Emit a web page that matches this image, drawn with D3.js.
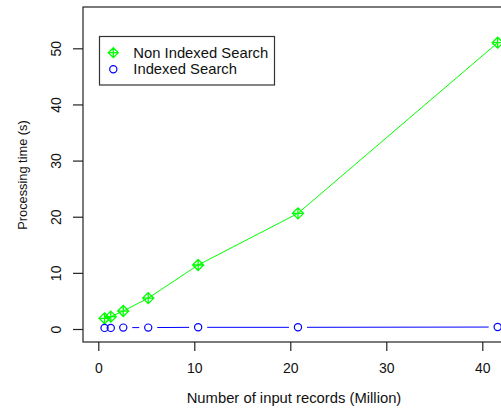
<!DOCTYPE html>
<html>
<head>
<meta charset="utf-8">
<script src="https://cdn.jsdelivr.net/npm/d3@7"></script>
<style>
  body { margin: 0; background: #fff; }
  svg { display: block; font-family: 'Liberation Sans', Arial, sans-serif; }
</style>
</head>
<body>
<svg id="container" width="501" height="412"></svg>
<script>
// input size in million records
const records = [0.65, 1.3, 2.6, 5.2, 10.4, 20.8, 41.6]
const nonIndexed = [1.9, 2.2, 3.2, 5.5, 11.4, 20.6, 51.0]
const indexed = [0.2, 0.2, 0.25, 0.25, 0.3, 0.3, 0.35]
const xTicks = [0, 10, 20, 30, 40]
const yTicks = [0, 10, 20, 30, 40, 50]
const seriesNames = ['Non Indexed Search', 'Indexed Search']

const svg = d3.select('#container')

const box = { left: 83, top: 7, bottom: 342, right: 540 }
const x = d3.scaleLinear().domain([0, 40]).range([98.3, 482.3])
const y = d3.scaleLinear().domain([0, 50]).range([329, 48.3])

const green = '#00ff00'
const blue = '#0000ff'

// plot frame
svg.append('rect')
  .attr('x', box.left).attr('y', box.top)
  .attr('width', box.right - box.left).attr('height', box.bottom - box.top)
  .attr('fill', 'none').attr('stroke', '#222').attr('stroke-width', 1.2)

// x axis
const xAxis = d3.axisBottom(x).tickValues(xTicks).tickSize(9).tickPadding(12)
const gx = svg.append('g').attr('transform', `translate(0,${box.bottom})`).call(xAxis)
gx.select('.domain').remove()
gx.selectAll('line').attr('stroke', '#222').attr('stroke-width', 1.2)
gx.selectAll('text').attr('font-size', 14).attr('fill', '#111')
  .attr('font-family', "'Liberation Sans', Arial, sans-serif")

// y axis, labels rotated like R's default
const yAxis = d3.axisLeft(y).tickValues(yTicks).tickSize(10).tickFormat(d3.format('d'))
const gy = svg.append('g').attr('transform', `translate(${box.left},0)`).call(yAxis)
gy.select('.domain').remove()
gy.selectAll('line').attr('stroke', '#222').attr('stroke-width', 1.2)
gy.selectAll('text')
  .attr('x', 0).attr('dy', null)
  .attr('transform', 'translate(-26,0) rotate(-90)')
  .attr('text-anchor', 'middle').attr('dominant-baseline', 'middle')
  .attr('font-size', 14).attr('fill', '#111')
  .attr('font-family', "'Liberation Sans', Arial, sans-serif")

// axis titles
svg.append('text')
  .attr('x', 294).attr('y', 403)
  .attr('text-anchor', 'middle').attr('font-size', 14.8).attr('fill', '#111')
  .text('Number of input records (Million)')

svg.append('text')
  .attr('transform', 'translate(27,175) rotate(-90)')
  .attr('text-anchor', 'middle').attr('font-size', 12.8).attr('fill', '#111')
  .text('Processing time (s)')

const nonData = records.map((r, i) => ({ x: r, y: nonIndexed[i] }))
const idxData = records.map((r, i) => ({ x: r, y: indexed[i] }))

// non indexed: line through points
svg.append('path')
  .datum(nonData)
  .attr('fill', 'none').attr('stroke', green).attr('stroke-width', 1)
  .attr('d', d3.line().x((d) => x(d.x)).y((d) => y(d.y)))

function diamondPlus(g, cx, cy, s) {
  g.append('path')
    .attr('d', `M${cx},${cy - s}L${cx + s},${cy}L${cx},${cy + s}L${cx - s},${cy}Z` +
      `M${cx - s},${cy}H${cx + s}M${cx},${cy - s}V${cy + s}`)
    .attr('fill', 'none').attr('stroke', green).attr('stroke-width', 1.3)
}

const nonG = svg.append('g')
nonData.forEach((d) => diamondPlus(nonG, x(d.x), y(d.y), 5.5))

// indexed: type "b" line with gaps at points
const gap = 9
const idxG = svg.append('g')
d3.pairs(idxData).forEach(([a, b]) => {
  const x1 = x(a.x), y1 = y(a.y), x2 = x(b.x), y2 = y(b.y)
  const len = Math.hypot(x2 - x1, y2 - y1)
  if (len <= 2 * gap) return
  const ux = (x2 - x1) / len, uy = (y2 - y1) / len
  idxG.append('line')
    .attr('x1', x1 + ux * gap).attr('y1', y1 + uy * gap)
    .attr('x2', x2 - ux * gap).attr('y2', y2 - uy * gap)
    .attr('stroke', blue).attr('stroke-width', 1)
})
idxG.selectAll('circle')
  .data(idxData)
  .enter()
  .append('circle')
  .attr('cx', (d) => x(d.x)).attr('cy', (d) => y(d.y)).attr('r', 3.6)
  .attr('fill', 'none').attr('stroke', blue).attr('stroke-width', 1.2)

// legend
const legend = svg.append('g')
legend.append('rect')
  .attr('x', 99.5).attr('y', 36.5).attr('width', 175).attr('height', 48.5)
  .attr('fill', '#fff').attr('stroke', '#333').attr('stroke-width', 1.2)
const rows = [52.7, 69.3]
diamondPlus(legend, 113.3, rows[0], 5)
legend.append('circle')
  .attr('cx', 113.3).attr('cy', rows[1]).attr('r', 3.6)
  .attr('fill', 'none').attr('stroke', blue).attr('stroke-width', 1.2)
legend.selectAll('text.lab')
  .data(seriesNames)
  .enter()
  .append('text')
  .attr('class', 'lab')
  .attr('x', 133.3).attr('y', (d, i) => rows[i])
  .attr('dominant-baseline', 'central')
  .attr('font-size', 14.8).attr('fill', '#111')
  .text((d) => d)
</script>
</body>
</html>
